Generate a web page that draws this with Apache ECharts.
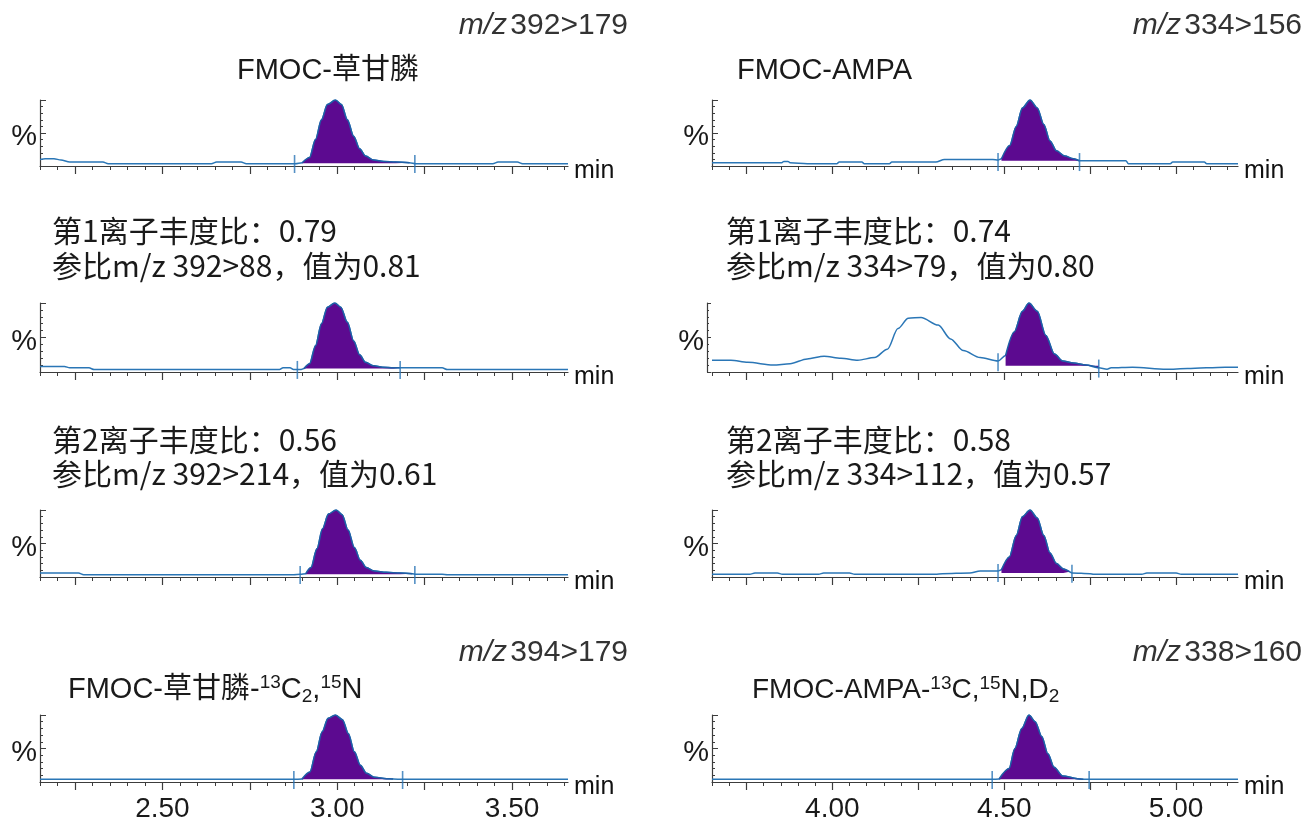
<!DOCTYPE html>
<html>
<head>
<meta charset="utf-8">
<script src="https://cdn.jsdelivr.net/npm/echarts@6/dist/echarts.min.js"></script>
</head>
<body style="margin:0;background:#fff">
<div id="main" style="width:1307px;height:826px"></div>
<script>
// time axes (min)
var leftRange = [2.15, 3.66];
var rightRange = [3.65, 5.18];
var leftMajor = [2.25, 2.50, 2.75, 3.00, 3.25, 3.50];
var rightMajor = [3.75, 4.00, 4.25, 4.50, 4.75, 5.00];
var leftLabels = [2.50, 3.00, 3.50];
var rightLabels = [4.00, 4.50, 5.00];

// FMOC-草甘膦 392>179
var preL1 = [[2.15,10],[2.165,11],[2.19,11],[2.21,9],[2.235,6],[2.33,6],[2.345,3.5],[2.64,3.5],[2.655,6],[2.725,6],[2.74,3.5],[2.88,3.5]];
var peakL1 = [[2.90,5],[2.921,13],[2.938,40],[2.955,70],[2.972,93],[2.995,100],[3.012,93],[3.029,70],[3.047,45],[3.064,26],[3.081,15],[3.104,9],[3.133,7],[3.167,6],[3.207,5]];
var postL1 = [[3.225,3.5],[3.445,3.5],[3.46,6],[3.515,6],[3.53,3.5],[3.66,3.5]];
var marksL1 = [[2.878,3],[3.222,3]];

// 392>88
var preL2 = [[2.15,8],[2.22,8],[2.235,6],[2.29,6],[2.305,3.5],[2.835,3.5],[2.845,6],[2.865,6],[2.875,3.5],[2.895,3.5]];
var peakL2 = [[2.905,5],[2.921,12],[2.938,38],[2.955,70],[2.972,94],[2.993,100],[3.01,94],[3.029,72],[3.047,45],[3.064,25],[3.081,14],[3.104,9],[3.13,7],[3.16,6],[3.18,6]];
var postL2 = [[3.195,6],[3.30,6],[3.315,3.5],[3.66,3.5]];
var marksL2 = [[2.886,3],[3.18,3]];

// 392>214
var preL3 = [[2.15,6],[2.26,6],[2.275,3.5],[2.875,3.5],[2.895,4]];
var peakL3 = [[2.91,5],[2.925,14],[2.942,42],[2.958,72],[2.975,94],[2.997,100],[3.014,93],[3.031,70],[3.049,44],[3.066,25],[3.083,14],[3.106,9],[3.14,7],[3.18,6],[3.215,5]];
var postL3 = [[3.225,4],[3.3,4],[3.315,3.5],[3.66,3.5]];
var marksL3 = [[2.894,3],[3.222,3]];

// FMOC-草甘膦-13C2,15N 394>179
var preL4 = [[2.15,4],[2.876,4]];
var peakL4 = [[2.899,4.5],[2.922,15],[2.94,45],[2.957,75],[2.974,95],[2.995,100],[3.015,93],[3.032,72],[3.049,45],[3.066,25],[3.084,13],[3.107,7],[3.141,5],[3.16,4.5]];
var postL4 = [[3.187,4],[3.66,4]];
var marksL4 = [[2.876,3],[3.187,3]];

// FMOC-AMPA 334>156
var preR1 = [[3.65,5],[3.853,5],[3.859,7],[3.871,7],[3.877,5],[3.927,3.5],[4.013,3.5],[4.02,6],[4.086,6],[4.093,3.5],[4.166,3.5],[4.173,6],[4.301,6],[4.326,10],[4.467,10],[4.482,9]];
var peakR1 = [[4.492,11],[4.516,31],[4.535,60],[4.553,88],[4.575,100],[4.596,88],[4.615,63],[4.633,38],[4.652,23],[4.676,15],[4.701,11],[4.719,8]];
var postR1 = [[4.73,8],[4.854,8],[4.861,3.5],[4.983,3.5],[4.99,6],[5.082,6],[5.089,3.5],[5.18,3.5]];
var marksR1 = [[4.482,6],[4.719,6]];

// 334>79
var preR2 = [[3.65,17],[3.705,17],[3.754,14],[3.828,10],[3.877,12],[3.927,19],[3.976,23],[4.025,20],[4.074,17],[4.123,21],[4.16,33],[4.191,63],[4.221,78],[4.258,79],[4.308,68],[4.344,48],[4.381,31],[4.43,21],[4.482,16]];
var peakR2 = [[4.504,24],[4.529,58],[4.553,88],[4.572,100],[4.596,88],[4.621,53],[4.646,26],[4.67,16],[4.701,13],[4.738,10],[4.775,6]];
var postR2 = [[4.799,4],[4.811,6],[4.873,7],[4.971,4],[5.033,5],[5.143,7],[5.18,7]];
var marksR2 = [[4.482,14],[4.775,5]];

// 334>112
var preR3 = [[3.65,4],[3.76,4],[3.775,6],[3.84,6],[3.855,4],[3.96,4],[3.975,6],[4.05,6],[4.065,4],[4.3,4],[4.32,5],[4.4,6],[4.43,9],[4.482,9]];
var peakR3 = [[4.492,11],[4.515,30],[4.535,62],[4.553,90],[4.575,100],[4.596,88],[4.615,62],[4.633,36],[4.652,20],[4.672,12],[4.69,8]];
var postR3 = [[4.697,6],[4.75,5],[4.76,4],[4.9,4],[4.915,6],[5.0,6],[5.015,4],[5.18,4]];
var marksR3 = [[4.482,6],[4.697,5]];

// FMOC-AMPA-13C,15N,D2 338>160
var preR4 = [[3.65,4],[4.465,4]];
var peakR4 = [[4.485,4.5],[4.514,20],[4.531,50],[4.551,80],[4.572,100],[4.59,90],[4.609,68],[4.627,42],[4.645,22],[4.67,9],[4.713,5],[4.73,4]];
var postR4 = [[4.747,4],[5.18,4]];
var marksR4 = [[4.465,3],[4.747,3]];

var panels = [
    {col: 0, row: 0, pre: preL1, peak: peakL1, post: postL1, marks: marksL1, base: 4},
    {col: 0, row: 1, pre: preL2, peak: peakL2, post: postL2, marks: marksL2, base: 5},
    {col: 0, row: 2, pre: preL3, peak: peakL3, post: postL3, marks: marksL3, base: 4},
    {col: 0, row: 3, pre: preL4, peak: peakL4, post: postL4, marks: marksL4, base: 4},
    {col: 1, row: 0, pre: preR1, peak: peakR1, post: postR1, marks: marksR1, base: 8},
    {col: 1, row: 1, pre: preR2, peak: peakR2, post: postR2, marks: marksR2, base: 9, yOffset: 5},
    {col: 1, row: 2, pre: preR3, peak: peakR3, post: postR3, marks: marksR3, base: 6},
    {col: 1, row: 3, pre: preR4, peak: peakR4, post: postR4, marks: marksR4, base: 4}
];

var rowTop = [100, 303, 510, 715];
var rowHeight = [66, 69, 67, 67];
var colLeft = [40, 712];
var colWidth = [528, 526];

var lineBlue = '#2a76b6';
var peakPurple = '#5c0a90';
var axisGrey = '#3c3c3c';
var latin = 'Liberation Sans, Arial, Noto Sans CJK SC';
var cjk = 'Noto Sans CJK SC';

function minorTicks(range, majors) {
    var out = [];
    for (var k = Math.ceil(range[0] / 0.05 - 1e-9); k * 0.05 <= range[1] + 1e-9; k++) {
        var v = +(k * 0.05).toFixed(2);
        if (majors.indexOf(v) < 0) out.push(v);
    }
    return out;
}

var grids = [], xAxes = [], yAxes = [], series = [];
panels.forEach(function (p, i) {
    var range = p.col === 0 ? leftRange : rightRange;
    var majors = p.col === 0 ? leftMajor : rightMajor;
    var labels = p.col === 0 ? leftLabels : rightLabels;
    grids.push({
        left: colLeft[p.col], width: colWidth[p.col],
        top: rowTop[p.row], height: rowHeight[p.row]
    });
    xAxes.push({
        type: 'value', gridIndex: i, min: range[0], max: range[1], position: 'bottom',
        axisLine: {show: true, lineStyle: {color: axisGrey, width: 1.2}},
        axisTick: {show: true, length: 8, customValues: majors, lineStyle: {color: axisGrey, width: 1.2}},
        axisLabel: {
            show: p.row === 3, customValues: labels, margin: 13,
            formatter: function (v) { return v.toFixed(2); },
            fontSize: 28, fontFamily: latin, color: '#1a1a1a'
        },
        splitLine: {show: false},
        name: 'min', nameLocation: 'end', nameGap: 6,
        nameTextStyle: {fontSize: 25, fontFamily: latin, color: '#111', verticalAlign: 'top', lineHeight: 10}
    });
    xAxes.push({
        type: 'value', gridIndex: i, min: range[0], max: range[1], position: 'bottom',
        axisLine: {show: false},
        axisTick: {show: true, length: 4, customValues: minorTicks(range, majors), lineStyle: {color: axisGrey, width: 1}},
        axisLabel: {show: false},
        splitLine: {show: false}
    });
    yAxes.push({
        type: 'value', gridIndex: i, min: 0, max: 100, interval: 50,
        offset: p.yOffset || 0,
        axisLine: {show: true, lineStyle: {color: axisGrey, width: 1.2}},
        axisTick: {show: true, inside: true, length: p.yOffset ? 4 : 6, lineStyle: {color: axisGrey}},
        minorTick: {show: true, splitNumber: 5, length: p.yOffset ? 2 : 3, lineStyle: {color: axisGrey}},
        axisLabel: {show: false},
        splitLine: {show: false},
        name: '%', nameLocation: 'middle', nameRotate: 0, nameGap: 3,
        nameTextStyle: {fontSize: 29, fontFamily: latin, color: '#1a1a1a', verticalAlign: 'top', lineHeight: 8}
    });
    series.push({
        type: 'line', xAxisIndex: 2 * i, yAxisIndex: i,
        data: p.pre.concat(p.peak, p.post),
        showSymbol: false, smooth: 0.3, smoothMonotone: 'x',
        lineStyle: {color: lineBlue, width: 1.5}, z: 2, silent: true
    });
    series.push({
        type: 'line', xAxisIndex: 2 * i, yAxisIndex: i,
        data: p.peak,
        showSymbol: false, smooth: 0.3, smoothMonotone: 'x',
        lineStyle: {color: '#1f5fa6', width: 1.5},
        areaStyle: {color: peakPurple, opacity: 1, origin: p.base},
        z: 3, silent: true
    });
    series.push({
        type: 'scatter', xAxisIndex: 2 * i, yAxisIndex: i,
        data: p.marks, symbol: 'rect', symbolSize: [1.6, 18],
        itemStyle: {color: lineBlue}, z: 4, silent: true
    });
});

function mz(x, y, rest) {
    return {
        type: 'text', x: x, y: y, silent: true,
        style: {
            text: '{i|m/z} {n|' + rest + '}', align: 'right', verticalAlign: 'middle',
            rich: {
                i: {fontSize: 30, fontFamily: latin, fontStyle: 'italic', fill: '#333'},
                n: {fontSize: 30, fontFamily: latin, fill: '#333'}
            }
        }
    };
}
function plain(x, y, text, family, size) {
    return {
        type: 'text', x: x, y: y, silent: true,
        style: {text: text, fontSize: size, fontFamily: family, fill: '#1a1a1a', align: 'left', verticalAlign: 'middle'}
    };
}
function labelled(x, y, text, size) {
    return {
        type: 'text', x: x, y: y, silent: true,
        style: {
            text: text, align: 'left', verticalAlign: 'middle',
            rich: {
                t: {fontSize: size, fontFamily: latin, fill: '#1a1a1a', lineHeight: size + 4},
                sup: {fontSize: 19, fontFamily: latin, fill: '#1a1a1a', verticalAlign: 'top', lineHeight: 19},
                sub: {fontSize: 19, fontFamily: latin, fill: '#1a1a1a', verticalAlign: 'bottom', lineHeight: 17}
            }
        }
    };
}

var texts = [
    mz(628, 26, '392>179'),
    plain(237, 71, 'FMOC-草甘膦', latin, 29),
    plain(52, 231, '第1离子丰度比：0.79', cjk, 30),
    plain(52, 266, '参比m/z 392>88，值为0.81', cjk, 30),
    plain(52, 440, '第2离子丰度比：0.56', cjk, 30),
    plain(52, 474, '参比m/z 392>214，值为0.61', cjk, 30),
    mz(628, 653, '394>179'),
    labelled(68, 690, '{t|FMOC-草甘膦-}{sup|13}{t|C}{sub|2}{t|,}{sup|15}{t|N}', 29),
    mz(1302, 26, '334>156'),
    plain(737, 71, 'FMOC-AMPA', latin, 29),
    plain(726, 231, '第1离子丰度比：0.74', cjk, 30),
    plain(726, 266, '参比m/z 334>79，值为0.80', cjk, 30),
    plain(726, 440, '第2离子丰度比：0.58', cjk, 30),
    plain(726, 474, '参比m/z 334>112，值为0.57', cjk, 30),
    mz(1302, 653, '338>160'),
    labelled(752, 690, '{t|FMOC-AMPA-}{sup|13}{t|C,}{sup|15}{t|N,D}{sub|2}', 28)
];

var chart = echarts.init(document.getElementById('main'));
chart.setOption({
    backgroundColor: '#fff',
    animation: false,
    grid: grids,
    xAxis: xAxes,
    yAxis: yAxes,
    series: series,
    graphic: texts
});
</script>
</body>
</html>
